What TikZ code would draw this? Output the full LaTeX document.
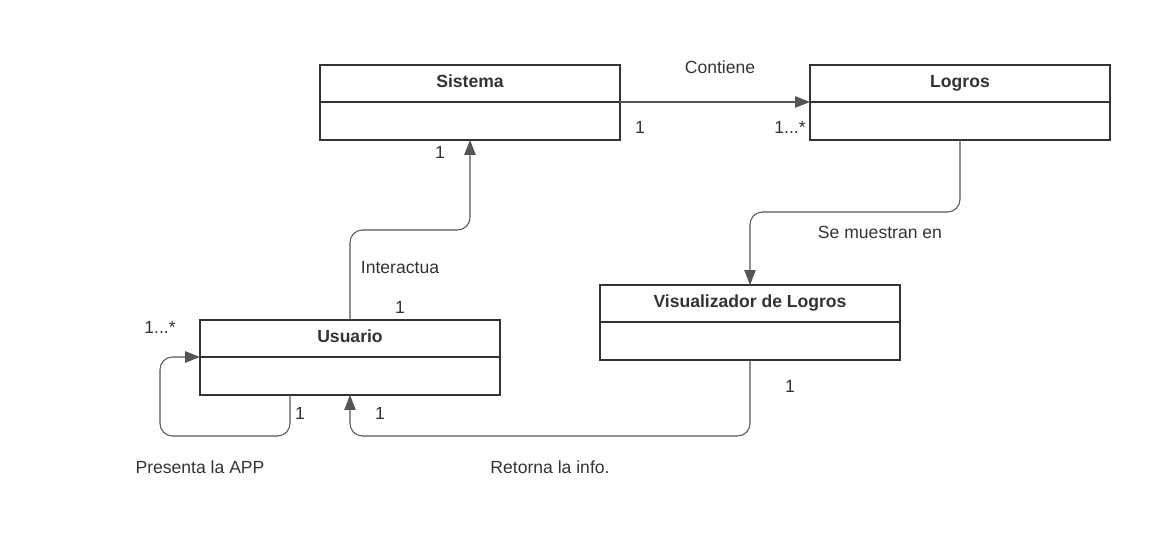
\documentclass[tikz,border=0pt]{standalone}
\usepackage{fontspec}
\setmainfont{Liberation Sans}
\usetikzlibrary{arrows.meta,positioning}
\definecolor{ink}{HTML}{333333}
\definecolor{wire}{HTML}{555555}
\begin{document}
\begin{tikzpicture}[x=0.02cm,y=-0.02cm,
  every node/.style={font=\fontsize{10}{12}\selectfont, text=ink},
  umlbox/.style={draw=ink, line width=1.1pt, minimum width=6cm, minimum height=1.5cm, inner sep=0pt},
  title/.style={font=\fontsize{10}{12}\selectfont\bfseries, text=ink, text height=1.6ex, text depth=0.4ex, inner sep=0pt},
  conn/.style={draw=wire, line width=0.6pt, rounded corners=0.25cm, -{Triangle[length=8.5pt,width=6.5pt]}},
  lbl/.style={inner sep=1pt, text height=1.6ex, text depth=0.4ex}]
\useasboundingbox (0,0) rectangle (1150,540);

% classes
\node[umlbox] (sis) at (470,102.5) {};
\draw[ink, line width=1.1pt] (320,102) -- (620,102);
\node[title] (sist) at (470,82) {Sistema};

\node[umlbox] (log) at (960,102.5) {};
\draw[ink, line width=1.1pt] (810,102) -- (1110,102);
\node[title] (logt) at (960,82) {Logros};

\node[umlbox] (usu) at (350,357.5) {};
\draw[ink, line width=1.1pt] (200,357) -- (500,357);
\node[title] (usut) at (350,337) {Usuario};

\node[umlbox] (vis) at (750,322.5) {};
\draw[ink, line width=1.1pt] (600,322) -- (900,322);
\node[title] (vist) at (750,302) {Visualizador de Logros};

% connectors
\coordinate (sisR) at (620,102);
\coordinate (logL) at (810,102);
\draw[conn] (sisR) -- (logL);

\coordinate (usuT) at (350,320);
\coordinate (sisB) at (470,140);
\draw[conn] (usuT) -- (350,230) -- (470,230) -- (sisB);

\coordinate (logB) at (960,140);
\coordinate (visT) at (750,285);
\draw[conn] (logB) -- (960,212) -- (750,212) -- (visT);

\coordinate (visB) at (750,360);
\coordinate (usuB) at (350,395);
\draw[conn] (visB) -- (750,436) -- (350,436) -- (usuB);

\coordinate (usuB2) at (290,395);
\coordinate (usuL) at (200,357);
\draw[conn] (usuB2) -- (290,436) -- (160,436) -- (160,357) -- (usuL);

% labels
\node[lbl] (l1) at (720,68) {Contiene};
\node[lbl] (l2) at (640,128) {1};
\node[lbl] (l3) at (790,128) {1...*};
\node[lbl] (l4) at (440,153) {1};
\node[lbl] (l5) at (400,268) {Interactua};
\node[lbl] (l6) at (400,308) {1};
\node[lbl] (l7) at (880,233) {Se muestran en};
\node[lbl] (l8) at (790,387) {1};
\node[lbl] (l9) at (380,414) {1};
\node[lbl] (l10) at (300,414) {1};
\node[lbl] (l11) at (160,328) {1...*};
\node[lbl] (l12) at (200,468) {Presenta la APP};
\node[lbl] (l13) at (550,468) {Retorna la info.};
\end{tikzpicture}
\end{document}
